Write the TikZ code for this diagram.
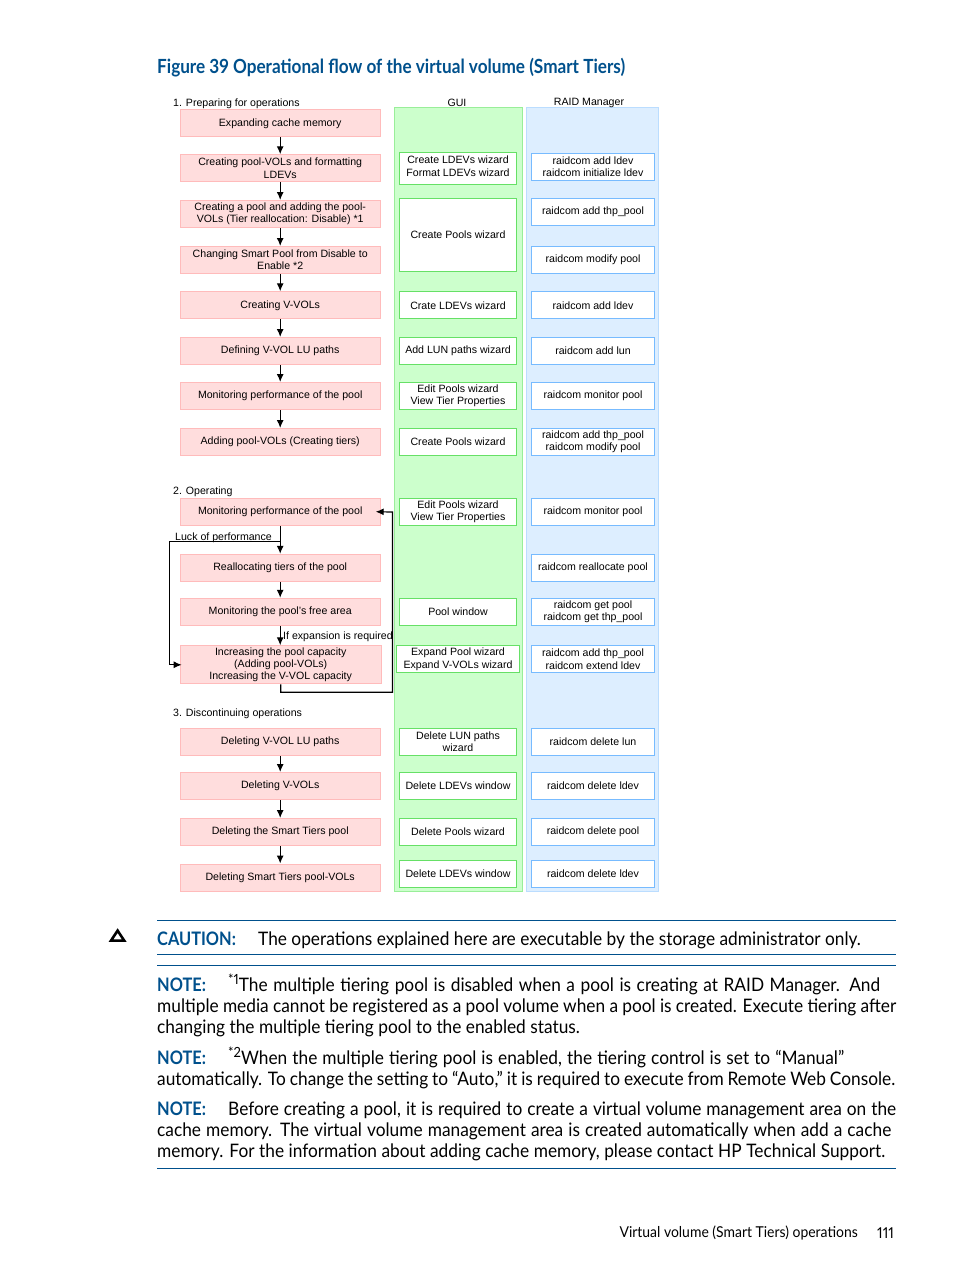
\documentclass[tikz,border=0pt]{standalone}
\usepackage{fontspec}
\usetikzlibrary{arrows.meta}
\setmainfont{Liberation Sans}
\newfontfamily\bodyfont[FakeStretch=0.93,Numbers=Proportional]{Lato}
\newfontfamily\headfont[FakeStretch=0.88,Numbers=Proportional]{Lato}

\definecolor{hpblue}{RGB}{0,80,140}
\definecolor{pinkfill}{RGB}{255,221,221}
\definecolor{pinkline}{RGB}{255,187,187}
\definecolor{guifill}{RGB}{204,255,204}
\definecolor{guiline}{RGB}{153,238,153}
\definecolor{guibox}{RGB}{102,224,102}
\definecolor{raidfill}{RGB}{221,238,255}
\definecolor{raidline}{RGB}{187,221,255}
\definecolor{raidbox}{RGB}{119,187,255}

\newcommand{\notelabel}[1]{\makebox[71pt][l]{\textcolor{hpblue}{\headfont\bfseries #1}}}
\newcommand{\notemark}[1]{\raisebox{7pt}{\fontsize{14}{14}\selectfont *#1}}
\newcommand{\fitline}[2]{\makebox[#1pt][s]{#2}}

\tikzset{
	basebox/.style={inner sep=0pt, align=center, line width=1pt, font=\fontsize{10.6}{12.4}\selectfont},
	stepbox/.style={basebox, draw=pinkline, fill=pinkfill, minimum width=200pt, minimum height=27pt},
	guinode/.style={basebox, draw=guibox, fill=white, minimum width=116.5pt, minimum height=27pt},
	raidnode/.style={basebox, draw=raidbox, fill=white, minimum width=122.5pt, minimum height=27pt},
	smalltext/.style={inner sep=0pt, font=\fontsize{10.6}{12.4}\selectfont},
	flow/.style={line width=1.2pt, -{Latex[length=8pt,width=7pt]}},
	bodytext/.style={inner sep=0pt, anchor=north west, align=left, font=\bodyfont\fontsize{18.6}{21}\selectfont},
	hprule/.style={draw=hpblue, line width=1pt},
}

\begin{document}
\begin{tikzpicture}[line cap=butt, line join=miter, x=1pt, y=-1pt]
	\useasboundingbox (0,0) rectangle (954,1271);
	
	% Title
	\node[inner sep=0pt, anchor=west, text=hpblue, font=\headfont\bfseries\fontsize{19.5}{22}\selectfont] (title) at (157,67.5) {Figure 39 Operational flow of the virtual volume (Smart Tiers)};
	
	% Columns
	\fill[guifill, draw=guiline, line width=1pt] (394.5,107.5) rectangle (522.5,891.5);
	\fill[raidfill, draw=raidline, line width=1pt] (526.5,107.5) rectangle (658.5,891.5);
	
	% Headings
	\node[smalltext, anchor=west] (head1) at (173,103.5) {1. Preparing for operations};
	\node[smalltext] (headgui) at (457,103) {GUI};
	\node[smalltext] (headraid) at (589,103) {RAID Manager};
	\node[smalltext, anchor=west] (head2) at (173,491.5) {2. Operating};
	\node[smalltext, anchor=west] (head3) at (173,713.5) {3. Discontinuing operations};
	
	% Steps
	\foreach \n/\y/\t in {
		p1/123.3/{Expanding cache memory},
		p2/168.3/{Creating pool-VOLs and formatting\\LDEVs},
		p3/214/{Creating a pool and adding the pool-\\VOLs (Tier reallocation: Disable) *1},
		p4/260/{Changing Smart Pool from Disable to\\Enable *2},
		p5/305.3/{Creating V-VOLs},
		p6/351/{Defining V-VOL LU paths},
		p7/396/{Monitoring performance of the pool},
		p8/442/{Adding pool-VOLs (Creating tiers)},
		q1/511.8/{Monitoring performance of the pool},
		q2/567.8/{Reallocating tiers of the pool},
		q3/611.8/{Monitoring the pool's free area},
		t1/742/{Deleting V-VOL LU paths},
		t2/786/{Deleting V-VOLs},
		t3/832/{Deleting the Smart Tiers pool},
		t4/877.5/{Deleting Smart Tiers pool-VOLs}}
	\node[stepbox] (\n) at (280.2,\y) {\t};
	\node[stepbox, minimum width=201pt, minimum height=38pt] (q4) at (280.7,664.8) {Increasing the pool capacity\\(Adding pool-VOLs)\\Increasing the V-VOL capacity};
	
	% GUI boxes
	\foreach \n/\y/\t in {
		g5/305.3/{Crate LDEVs wizard},
		g6/351/{Add LUN paths wizard},
		g7/396/{Edit Pools wizard\\View Tier Properties},
		g8/442/{Create Pools wizard},
		h1/511.8/{Edit Pools wizard\\View Tier Properties},
		h3/611.8/{Pool window},
		u1/742/{Delete LUN paths\\wizard},
		u2/786/{Delete LDEVs window},
		u3/832/{Delete Pools wizard},
		u4/874/{Delete LDEVs window}}
	\node[guinode] (\n) at (458,\y) {\t};
	\node[guinode, minimum height=31.4pt, text depth=5pt] (g2) at (458,168.5) {Create LDEVs wizard\\Format LDEVs wizard};
	\node[guinode, minimum height=72.4pt] (g3) at (458,235) {Create Pools wizard};
	\node[guinode, minimum width=122.4pt] (h4) at (458,659.3) {Expand Pool wizard\\Expand V-VOLs wizard};
	
	% RAID Manager boxes
	\foreach \n/\y/\t in {
		r2/166.5/{raidcom add ldev\\raidcom initialize ldev},
		r3/212/{raidcom add thp\_pool},
		r4/260/{raidcom modify pool},
		r5/305.3/{raidcom add ldev},
		r6/351/{raidcom add lun},
		r7/396/{raidcom monitor pool},
		r8/442/{raidcom add thp\_pool\\raidcom modify pool},
		s1/511.8/{raidcom monitor pool},
		s2/567.8/{raidcom reallocate pool},
		s3/611.8/{raidcom get pool\\raidcom get thp\_pool},
		s4/659.3/{raidcom add thp\_pool\\raidcom extend ldev},
		v1/742/{raidcom delete lun},
		v2/786/{raidcom delete ldev},
		v3/832/{raidcom delete pool},
		v4/874/{raidcom delete ldev}}
	\node[raidnode] (\n) at (593,\y) {\t};
	
	% Flow
	\foreach \a/\b in {p1/p2,p2/p3,p3/p4,p4/p5,p5/p6,p6/p7,p7/p8,q1/q2,q2/q3,t1/t2,t2/t3,t3/t4}
	\draw[flow] (\a) -- (\b);
	\draw[flow] (q3.south) -- (q3.south |- q4.north);
	
	% Loops
	\coordinate (luck) at (280.2,541.5);
	\coordinate (loopcorner) at (392.5,512);
	\draw[flow, shorten >=-2pt] (luck) -- ++(-111,0) |- (q4.west);
	\draw[flow, shorten >=-5pt] (q4.south) -- ++(0,8) -| (loopcorner) -- (q1.east);
	\node[smalltext, anchor=west] (lucklabel) at (175,537.5) {Luck of performance};
	\node[smalltext, anchor=west] (expandlabel) at (283,636.5) {If expansion is required};
	
	% Notes
	\draw[line width=2.6pt] (111,940.6) -- (117.6,930.6) -- (124.2,940.6) -- cycle;
	\draw[hprule] (157,920.5) -- (896,920.5);
	\draw[hprule] (157,954.5) -- (896,954.5);
	\draw[hprule] (157,965) -- (896,965);
	\draw[hprule] (157,1168) -- (896,1168);
	
	\node[bodytext, anchor=base west] (caution) at (157,945) {\makebox[101pt][l]{\textcolor{hpblue}{\headfont\bfseries CAUTION:}}The operations explained here are executable by the storage administrator only.};
	\node[bodytext] (note1) at (157,973.5) {\fitline{723}{\notelabel{NOTE:}\notemark{1}The multiple tiering pool is disabled when a pool is creating at RAID Manager. And}\\\fitline{739}{multiple media cannot be registered as a pool volume when a pool is created. Execute tiering after}\\changing the multiple tiering pool to the enabled status.};
	\node[bodytext] (note2) at (157,1047) {\fitline{687}{\notelabel{NOTE:}\notemark{2}When the multiple tiering pool is enabled, the tiering control is set to “Manual”}\\\fitline{738}{automatically. To change the setting to “Auto,” it is required to execute from Remote Web Console.}};
	\node[bodytext] (note3) at (157,1102) {\fitline{739}{\notelabel{NOTE:}Before creating a pool, it is required to create a virtual volume management area on the}\\\fitline{734}{cache memory. The virtual volume management area is created automatically when add a cache}\\\fitline{728}{memory. For the information about adding cache memory, please contact HP Technical Support.}};
	
	% Footer
	\node[inner sep=0pt, anchor=east, font=\bodyfont\fontsize{15}{18}\selectfont] (footer) at (858,1233) {Virtual volume (Smart Tiers) operations};
	\node[inner sep=0pt, anchor=east, font=\bodyfont\fontsize{15}{18}\selectfont] (pageno) at (894,1233) {111};
\end{tikzpicture}
\end{document}
